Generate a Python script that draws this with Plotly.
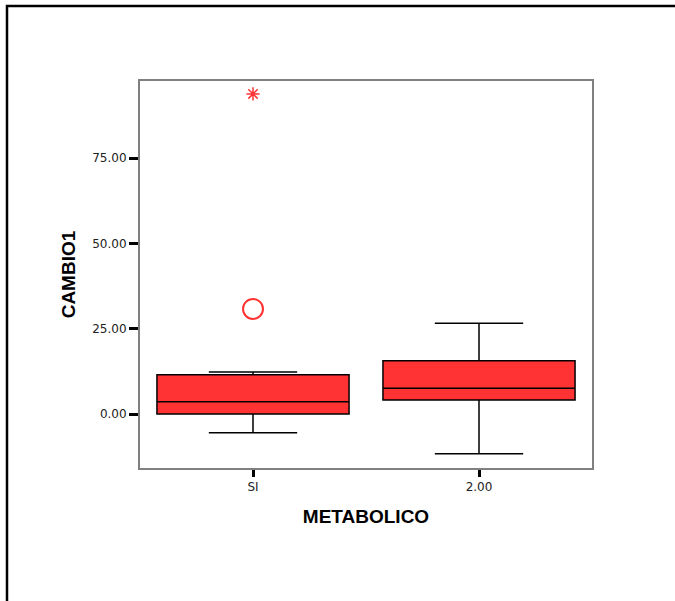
import plotly.graph_objects as go

# Box-plot summary of CAMBIO1 by METABOLICO group
categories = ["SI", "2.00"]
q1 = [0.0, 4.1]
medians = [3.6, 7.6]
q3 = [11.5, 15.6]
lower_whisker = [-5.5, -11.6]
upper_whisker = [12.3, 26.6]

# Points beyond the whiskers (group SI)
outlier_cat = ["SI"]
outlier_val = [30.8]
extreme_cat = ["SI"]
extreme_val = [93.8]

y_tick_vals = [0, 25, 50, 75]
y_tick_text = ["0.00", "25.00", "50.00", "75.00"]

BOX_FILL = "#FF3333"
RED = "#FF3333"

fig = go.Figure()

fig.add_trace(go.Box(
    x=categories,
    q1=q1,
    median=medians,
    q3=q3,
    lowerfence=lower_whisker,
    upperfence=upper_whisker,
    boxpoints=False,
    fillcolor=BOX_FILL,
    line=dict(color="black", width=1.5),
    width=0.85,
    whiskerwidth=0.46,
    showlegend=False,
    hoverinfo="skip",
))

fig.add_trace(go.Scatter(
    x=outlier_cat, y=outlier_val, mode="markers",
    marker=dict(symbol="circle-open", size=20, color=RED, line=dict(width=2, color=RED)),
    showlegend=False,
))

fig.add_trace(go.Scatter(
    x=extreme_cat, y=extreme_val, mode="markers",
    marker=dict(symbol="asterisk-open", size=11, color=RED, line=dict(width=1.5, color=RED)),
    showlegend=False,
))

fig.update_layout(
    width=675,
    height=601,
    margin=dict(l=140, r=83, t=81, b=133),
    paper_bgcolor="white",
    plot_bgcolor="white",
    font=dict(family="Liberation Sans, Arial, sans-serif", color="black"),
    xaxis=dict(
        type="category",
        categoryorder="array",
        categoryarray=categories,
        range=[-0.5, 1.5],
        showgrid=False,
        zeroline=False,
        showline=True,
        linecolor="#808080",
        linewidth=2,
        mirror=True,
        ticks="outside",
        ticklen=7,
        tickwidth=3,
        tickcolor="black",
        tickfont=dict(size=12, family="DejaVu Sans, sans-serif", color="#222222"),
        title=dict(text="<b>METABOLICO</b>", font=dict(size=19), standoff=16),
    ),
    yaxis=dict(
        range=[-15.8, 97.6],
        tickvals=y_tick_vals,
        ticktext=y_tick_text,
        showgrid=False,
        zeroline=False,
        showline=True,
        linecolor="#808080",
        linewidth=2,
        mirror=True,
        ticks="outside",
        ticklen=9,
        tickwidth=3,
        tickcolor="black",
        tickfont=dict(size=12, family="DejaVu Sans, sans-serif", color="#222222"),
        title=dict(text="<b>CAMBIO1</b>", font=dict(size=19), standoff=12),
    ),
)

# Outer frame around the chart
fig.add_shape(
    type="rect", xref="paper", yref="paper",
    x0=(7 - 140) / 452, x1=(690 - 140) / 452,
    y0=(468 - 620) / 387, y1=(468 - 6) / 387,
    line=dict(color="black", width=2.5),
    fillcolor="rgba(0,0,0,0)",
    layer="below",
)

fig.write_html("out.html")
